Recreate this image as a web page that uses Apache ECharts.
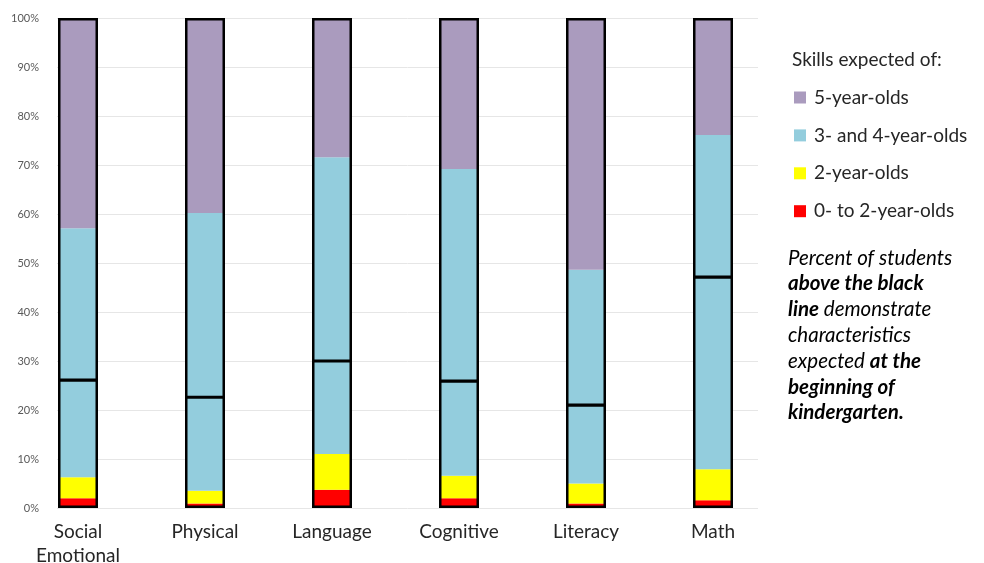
<!DOCTYPE html>
<html>
<head>
<meta charset="utf-8">
<script src="https://cdn.jsdelivr.net/npm/echarts@6/dist/echarts.min.js"></script>
<style>
html,body{margin:0;padding:0;background:#fff;}
#chart{width:984px;height:563px;}
</style>
</head>
<body>
<div id="chart"></div>
<script>
var categories = ['Social\nEmotional', 'Physical', 'Language', 'Cognitive', 'Literacy', 'Math'];
var yTicks = [0, 10, 20, 30, 40, 50, 60, 70, 80, 90, 100];
// cumulative boundaries (percent)
var redTop    = [2.0, 0.9, 3.7, 2.0, 0.9, 1.6];
var yellowTop = [6.3, 3.5, 11.0, 6.6, 5.0, 7.9];
var blueTop   = [57.1, 60.2, 71.6, 69.2, 48.6, 76.1];
var totalTop  = [100, 100, 100, 100, 100, 100];
var blackLine = [26.1, 22.6, 30.0, 25.9, 21.0, 47.1];

var seriesNames = ['0- to 2-year-olds', '2-year-olds', '3- and 4-year-olds', '5-year-olds'];
var seriesColors = ['#FF0000', '#FFFF00', '#93CDDD', '#AA9BBE'];

function diff(a, b) { return a.map(function (v, i) { return +(v - (b ? b[i] : 0)).toFixed(2); }); }
var segs = [diff(redTop), diff(yellowTop, redTop), diff(blueTop, yellowTop), diff(totalTop, blueTop)];

var FONT = 'Lato, "Open Sans", sans-serif';
var BAR_W = 40;

var chart = echarts.init(document.getElementById('chart'), null, {renderer: 'canvas'});

var series = segs.map(function (d, i) {
  return {
    name: seriesNames[i], type: 'bar', stack: 'total', xAxisIndex: 1, yAxisIndex: 1,
    barWidth: BAR_W, data: d, itemStyle: {color: seriesColors[i]}, z: 2
  };
});
series.push({
  name: 'outline', type: 'bar', xAxisIndex: 1, yAxisIndex: 1, barWidth: BAR_W, barGap: '-100%',
  data: totalTop, itemStyle: {color: 'rgba(0,0,0,0)', borderColor: '#000', borderWidth: 2.5}, z: 4,
  silent: true
});
series.push({
  name: 'threshold', type: 'custom', xAxisIndex: 1, yAxisIndex: 1, z: 5, silent: true,
  data: blackLine.map(function (v, i) { return [i, v]; }),
  renderItem: function (params, api) {
    var p = api.coord([api.value(0), api.value(1)]);
    return {
      type: 'line',
      shape: {x1: p[0] - BAR_W / 2, y1: p[1], x2: p[0] + BAR_W / 2, y2: p[1]},
      style: {stroke: '#000', lineWidth: 3.2}
    };
  }
});

var option = {
  backgroundColor: '#fff',
  animation: false,
  title: {
    text: 'Skills expected of:', left: 787, top: 45,
    textStyle: {fontFamily: FONT, fontSize: 19, fontWeight: 'normal', color: '#262626'}
  },
  legend: {
    orient: 'vertical', left: 789, top: 83,
    data: ['5-year-olds', '3- and 4-year-olds', '2-year-olds', '0- to 2-year-olds'],
    icon: 'rect', itemWidth: 12, itemHeight: 12, itemGap: 18.9,
    textStyle: {fontFamily: FONT, fontSize: 19, color: '#262626', lineHeight: 18, padding: [0, 0, 0, 3]}
  },
  grid: [
    {left: 57, right: 226, top: 18, bottom: 55, outerBoundsMode: 'none', containLabel: false},
    {left: 14.5, width: 762, top: 18, bottom: 55, outerBoundsMode: 'none', containLabel: false}
  ],
  xAxis: [
    {gridIndex: 0, type: 'value', show: false, min: 0, max: 1},
    {gridIndex: 1, type: 'category', data: categories,
     axisLine: {show: false}, axisTick: {show: false},
     axisLabel: {fontFamily: FONT, fontSize: 19, color: '#262626', margin: 12, lineHeight: 24}}
  ],
  yAxis: [
    {gridIndex: 0, type: 'value', min: 0, max: 100, interval: 10,
     axisLine: {show: false}, axisTick: {show: false},
     splitLine: {lineStyle: {color: '#E6E6E6', width: 1}},
     axisLabel: {fontFamily: FONT, fontSize: 11, color: '#595959', margin: 18,
       formatter: function (v) { return yTicks.indexOf(v) >= 0 ? v + '%' : ''; }}},
    {gridIndex: 1, type: 'value', min: 0, max: 100, show: false, splitLine: {show: false}}
  ],
  series: series,
  graphic: [{
    type: 'text', left: 788, top: 248,
    style: {
      text: '{i|Percent of students}\n{b|above the black}\n{b|line}{i| demonstrate}\n{i|characteristics}\n{i|expected }{b|at the}\n{b|beginning of}\n{b|kindergarten.}',
      rich: {
        i: {fontFamily: FONT, fontSize: 20.5, fontStyle: 'italic', color: '#262626', lineHeight: 25.8},
        b: {fontFamily: FONT, fontSize: 20.5, fontStyle: 'italic', fontWeight: 'bold', color: '#262626', lineHeight: 25.8}
      }
    }
  }]
};
chart.setOption(option);
</script>
</body>
</html>
